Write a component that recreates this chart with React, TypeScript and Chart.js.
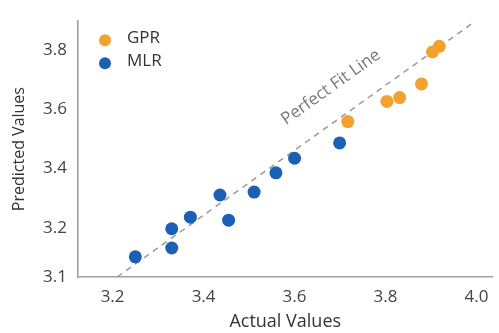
import React, { useEffect, useRef } from "react";
import { Chart, registerables } from "chart.js";

Chart.register(...registerables);

const gprActual = [3.717, 3.803, 3.831, 3.879, 3.903, 3.918];
const gprPredicted = [3.559, 3.627, 3.64, 3.686, 3.794, 3.813];
const mlrActual = [3.25, 3.33, 3.33, 3.371, 3.436, 3.455, 3.511, 3.559, 3.6, 3.699];
const mlrPredicted = [3.102, 3.197, 3.132, 3.236, 3.311, 3.226, 3.321, 3.386, 3.435, 3.487];
const fitLineActual = [3.21, 3.99];
const fitLinePredicted = [3.034, 3.89];
const xTickValues = [3.2, 3.4, 3.6, 3.8, 4.0];
const yTickValues = [3.034, 3.2, 3.4, 3.6, 3.8];
const yTickLabels = ["3.1", "3.2", "3.4", "3.6", "3.8"];
const seriesLabels = ["GPR", "MLR"];
const fitLineLabel = "Perfect Fit Line";
const xTitle = "Actual Values";
const yTitle = "Predicted Values";

const FONT = "'Open Sans', 'DejaVu Sans', sans-serif";
const ORANGE = "#F3A12F";
const BLUE = "#1B60B5";

const zip = (xs: number[], ys: number[]) => xs.map((x, i) => ({ x, y: ys[i] }));

const overlayPlugin = {
  id: "overlay",
  afterDatasetsDraw(chart: any) {
    const { ctx, chartArea, scales } = chart;
    // Legend
    ctx.save();
    ctx.font = `17px ${FONT}`;
    ctx.textBaseline = "middle";
    ctx.textAlign = "left";
    const legendX = chartArea.left + 27;
    const legendY = chartArea.top + 18;
    [0, 1].forEach((i) => {
      const ds = chart.data.datasets[i];
      const y = legendY + i * 23;
      ctx.fillStyle = ds.backgroundColor;
      ctx.beginPath();
      ctx.arc(legendX, y + 1, 6, 0, Math.PI * 2);
      ctx.fill();
      ctx.fillStyle = "#333";
      ctx.fillText(ds.label, legendX + 22, y - 1);
    });
    // Fit line label
    const x0 = scales.x.getPixelForValue(fitLineActual[0]);
    const y0 = scales.y.getPixelForValue(fitLinePredicted[0]);
    const x1 = scales.x.getPixelForValue(fitLineActual[1]);
    const y1 = scales.y.getPixelForValue(fitLinePredicted[1]);
    const angle = Math.atan2(y1 - y0, x1 - x0);
    const cx = scales.x.getPixelForValue(3.68);
    const cy = scales.y.getPixelForValue(3.675);
    ctx.translate(cx, cy);
    ctx.rotate(angle);
    ctx.textAlign = "center";
    ctx.fillStyle = "#7a7a7a";
    ctx.font = `17px ${FONT}`;
    ctx.fillText(fitLineLabel, 0, 0);
    ctx.restore();
  },
};

export default function App() {
  const ref = useRef<HTMLCanvasElement>(null);
  useEffect(() => {
    if (!ref.current) return;
    const chart = new Chart(ref.current, {
      type: "scatter",
      data: {
        datasets: [
          {
            label: seriesLabels[0],
            data: zip(gprActual, gprPredicted),
            backgroundColor: ORANGE,
            borderWidth: 0,
            pointRadius: 6.5,
            pointHoverRadius: 6.5,
            order: 1,
          },
          {
            label: seriesLabels[1],
            data: zip(mlrActual, mlrPredicted),
            backgroundColor: BLUE,
            borderWidth: 0,
            pointRadius: 6.5,
            pointHoverRadius: 6.5,
            order: 1,
          },
          {
            label: fitLineLabel,
            data: zip(fitLineActual, fitLinePredicted),
            showLine: true,
            borderColor: "#9a9a9a",
            borderWidth: 1.5,
            borderDash: [6, 5],
            pointRadius: 0,
            order: 3,
          } as any,
        ],
      },
      options: {
        animation: false,
        responsive: false,
        events: [],
        layout: { padding: { top: 13, right: 0, left: 0, bottom: 0 } },
        plugins: {
          legend: { display: false },
          tooltip: { enabled: false },
        },
        scales: {
          x: {
            type: "linear",
            min: 3.124,
            max: 4.035,
            afterBuildTicks: (s: any) => {
              s.ticks = xTickValues.map((v) => ({ value: v }));
            },
            afterFit: (s: any) => {
              s.height = 56;
            },
            grid: { display: false, drawTicks: false },
            border: { display: true, color: "#a0a0a0", width: 1.6 },
            ticks: {
              padding: 10,
              color: "#444",
              font: { family: FONT, size: 17 },
              callback: (v: any) => Number(v).toFixed(1),
            },
            title: {
              display: true,
              text: xTitle,
              color: "#333",
              font: { family: FONT, size: 18 },
              padding: { top: 0, bottom: 0 },
            },
          },
          y: {
            type: "linear",
            min: 3.034,
            max: 3.898,
            afterBuildTicks: (s: any) => {
              s.ticks = yTickValues.map((v) => ({ value: v }));
            },
            afterFit: (s: any) => {
              s.width = 78;
            },
            grid: { display: false, drawTicks: false },
            border: { display: true, color: "#a0a0a0", width: 1.6 },
            ticks: {
              padding: 11,
              color: "#444",
              font: { family: FONT, size: 17 },
              callback: (_v: any, i: number) => yTickLabels[i],
            },
            title: {
              display: true,
              text: yTitle,
              color: "#333",
              font: { family: FONT, size: 16 },
              padding: { top: 10, bottom: 0 },
            },
          },
        },
      },
      plugins: [overlayPlugin],
    });
    return () => chart.destroy();
  }, []);
  return (
    <div style={{ position: "fixed", left: 0, top: 0, width: 499, height: 333, background: "#fff" }}>
      <canvas ref={ref} width={499} height={333} />
    </div>
  );
}
